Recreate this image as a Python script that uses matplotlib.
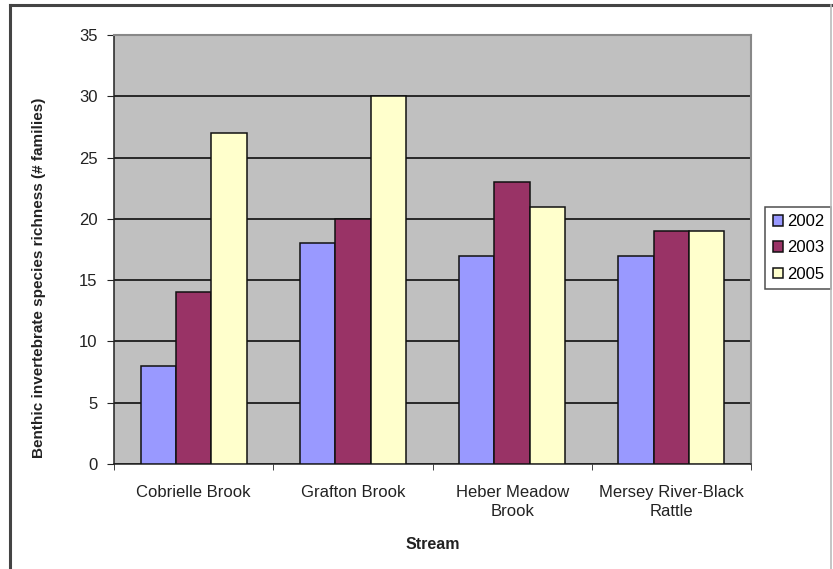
import numpy as np
import matplotlib.pyplot as plt
from matplotlib.lines import Line2D

streams = ['Cobrielle Brook', 'Grafton Brook', 'Heber Meadow\nBrook', 'Mersey River-Black\nRattle']
years = ['2002', '2003', '2005']
richness_2002 = [8, 18, 17, 17]
richness_2003 = [14, 20, 23, 19]
richness_2005 = [27, 30, 21, 19]

colors = ['#9999FF', '#993366', '#FFFFCC']

plt.rcParams['font.family'] = ['Liberation Sans', 'DejaVu Sans']

fig = plt.figure(figsize=(8.33, 5.69), dpi=100)

# outer chart frame
fig.add_artist(Line2D([10/833, 10/833], [0, 1 - 5/569], color='#444444', lw=2.2))
fig.add_artist(Line2D([10/833, 831/833], [1 - 5/569, 1 - 5/569], color='#444444', lw=2.2))
fig.add_artist(Line2D([831/833, 831/833], [0, 1 - 5/569], color='#bbbbbb', lw=1.2))

ax = fig.add_axes([114/833, 105/569, 637/833, 429/569])
ax.set_facecolor('#C0C0C0')

x = np.arange(len(streams))
w = 1 / 4.5
series = [richness_2002, richness_2003, richness_2005]
for i, (vals, c, yr) in enumerate(zip(series, colors, years)):
    ax.bar(x + (i - 1) * w, vals, w, color=c, edgecolor='#111111', linewidth=1.1,
           label=yr, zorder=3)

ax.set_xlim(-0.5, len(streams) - 0.5)
ax.set_ylim(0, 35)
ax.set_yticks(range(0, 36, 5))
ax.yaxis.grid(True, color='black', lw=1.1, zorder=1)
ax.set_axisbelow(True)

ax.set_xticks(x)
ax.set_xticklabels(streams, fontsize=12, color='#222222', linespacing=1.35)
ax.set_xticks(np.arange(-0.5, len(streams)), minor=True)
ax.tick_params(axis='x', which='major', length=0, pad=15)
ax.tick_params(axis='x', which='minor', length=4, direction='out', color='#222222')
ax.tick_params(axis='y', length=5, direction='out', labelsize=12, colors='#222222', pad=7)

for s in ['left', 'bottom']:
    ax.spines[s].set_color('#222222')
    ax.spines[s].set_linewidth(1.1)
for s in ['top', 'right']:
    ax.spines[s].set_color('#888888')
    ax.spines[s].set_linewidth(1.5)

ax.set_ylabel('Benthic invertebrate species richness (# families)', fontsize=11,
              fontweight='bold', color='#222222')
ax.yaxis.set_label_coords(-0.107, 0.434)
ax.set_xlabel('Stream', fontsize=11.5, fontweight='bold', color='#222222', labelpad=13)

leg = ax.legend(loc='center left', bbox_to_anchor=(765/833, 1 - 248/569), bbox_transform=fig.transFigure,
                fontsize=12, frameon=True, fancybox=False, edgecolor='#222222',
                handlelength=0.6, handleheight=0.6, handletextpad=0.25, labelspacing=0.68,
                borderpad=0.45, borderaxespad=0)
leg.get_frame().set_linewidth(1.1)

fig.savefig('out.png', dpi=100)
